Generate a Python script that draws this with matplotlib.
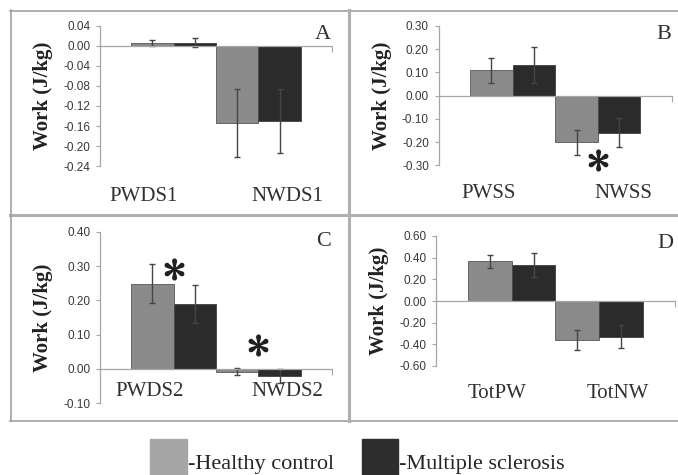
import matplotlib
matplotlib.use("Agg")
import matplotlib.pyplot as plt
from matplotlib.lines import Line2D
from matplotlib.patches import Rectangle
from matplotlib.transforms import blended_transform_factory


W, H = 678, 475

# panel A
cats_a = ["PWDS1", "NWDS1"]
healthy_a = [0.007, -0.154]
healthy_err_a = [0.006, 0.068]
ms_a = [0.007, -0.149]
ms_err_a = [0.009, 0.064]
ticks_a = [-0.24, -0.20, -0.16, -0.12, -0.08, -0.04, 0.00, 0.04]

# panel B
cats_b = ["PWSS", "NWSS"]
healthy_b = [0.109, -0.201]
healthy_err_b = [0.055, 0.053]
ms_b = [0.131, -0.159]
ms_err_b = [0.078, 0.064]
ticks_b = [-0.30, -0.20, -0.10, 0.00, 0.10, 0.20, 0.30]

# panel C
cats_c = ["PWDS2", "NWDS2"]
healthy_c = [0.249, -0.008]
healthy_err_c = [0.057, 0.010]
ms_c = [0.189, -0.021]
ms_err_c = [0.055, 0.021]
ticks_c = [-0.10, 0.00, 0.10, 0.20, 0.30, 0.40]

# panel D
cats_d = ["TotPW", "TotNW"]
healthy_d = [0.369, -0.360]
healthy_err_d = [0.060, 0.089]
ms_d = [0.332, -0.329]
ms_err_d = [0.112, 0.108]
ticks_d = [-0.60, -0.40, -0.20, 0.00, 0.20, 0.40, 0.60]

# significance marks: (category index, y value)
stars_b = [(1, -0.276)]
stars_c = [(0, 0.29), (1, 0.07)]

HEALTHY = "#8a8a8a"
MS = "#2b2b2b"
GRID = "#a6a6a6"
SERIF = "Liberation Serif"
SANS = "Liberation Sans"

plt.rcParams["mathtext.fontset"] = "stix"


def px_axes(fig, left, top, right, bottom):
    return fig.add_axes([left / W, 1 - bottom / H, (right - left) / W, (bottom - top) / H])


def draw_panel(fig, box, cats, hv, he, mv, me, ticks, letter, label_x, label_y, stars):
    ax = px_axes(fig, *box)
    x = range(len(cats))
    xh = [i - 0.25 for i in x]
    xm = [i + 0.25 for i in x]
    ekw = dict(ecolor="#454545", elinewidth=1.0, capsize=2.5, capthick=1.0)
    ax.bar(xh, hv, 0.5, yerr=he, color=HEALTHY, edgecolor="#666666", linewidth=0.7, error_kw=ekw)
    ax.bar(xm, mv, 0.5, yerr=me, color=MS, edgecolor="#4a4a4a", linewidth=0.7, error_kw=ekw)

    ax.set_xlim(-0.87, 1.87)
    ax.set_ylim(ticks[0], ticks[-1])
    ax.set_yticks(ticks)
    ax.set_yticklabels([f"{t:.2f}" for t in ticks], fontsize=8.5, family=SANS, color="#383838")
    ax.tick_params(axis="y", length=3, width=0.8, color=GRID, pad=4)

    for s in ["top", "right"]:
        ax.spines[s].set_visible(False)
    ax.spines["left"].set_color(GRID)
    ax.spines["left"].set_linewidth(0.9)
    ax.spines["bottom"].set_position(("data", 0))
    ax.spines["bottom"].set_color(GRID)
    ax.spines["bottom"].set_linewidth(0.9)
    ax.set_xticks([1.87])
    ax.set_xticklabels([""])
    ax.tick_params(axis="x", length=4, width=0.8, color=GRID, direction="out")

    tr = blended_transform_factory(ax.transData, ax.transAxes)
    for xi, name in zip(label_x, cats):
        ax.text(xi, label_y, name, transform=tr, ha="center", va="center",
                fontsize=15, family=SERIF, color="#303030", clip_on=False)

    ax.text(0.995, 0.94, letter, transform=ax.transAxes, ha="right", va="center",
            fontsize=16, family=SERIF, color="#303030")

    pos = ax.get_position()
    fig.text(pos.x0 - 57 / W, pos.y0 + pos.height / 2, "Work (J/kg)", rotation=90,
             ha="center", va="center", fontsize=15, family=SERIF, weight="bold", color="#222222")

    for ci, yv in stars:
        ax.plot(ci, yv, marker=r"$\ast$", markersize=15, color="#202020", clip_on=False)
    return ax


fig = plt.figure(figsize=(W / 100, H / 100), dpi=100)

draw_panel(fig, (100, 26, 332, 166), cats_a, healthy_a, healthy_err_a, ms_a, ms_err_a,
           ticks_a, "A", [-0.35, 1.34], -0.22, [])
draw_panel(fig, (438.7, 26, 672, 165.3), cats_b, healthy_b, healthy_err_b, ms_b, ms_err_b,
           ticks_b, "B", [-0.29, 1.30], -0.20, stars_b)
draw_panel(fig, (100, 231.7, 332, 403.3), cats_c, healthy_c, healthy_err_c, ms_c, ms_err_c,
           ticks_c, "C", [-0.29, 1.34], 0.066, stars_c)
draw_panel(fig, (436, 236, 675, 366), cats_d, healthy_d, healthy_err_d, ms_d, ms_err_d,
           ticks_d, "D", [-0.17, 1.22], -0.21, [])


def hline(y, x0, x1, lw, color):
    fig.add_artist(Line2D([x0 / W, x1 / W], [1 - y / H, 1 - y / H], lw=lw, color=color))


def vline(x, y0, y1, lw, color):
    fig.add_artist(Line2D([x / W, x / W], [1 - y0 / H, 1 - y1 / H], lw=lw, color=color))


# panel frames
hline(10.5, 10, W, 1.2, "#a0a0a0")
hline(420.5, 10, W, 1.2, "#a0a0a0")
hline(215, 10, W, 2.2, "#b0b0b0")
vline(10.5, 10, 421, 1.2, "#a0a0a0")
vline(349, 10, 421, 2.2, "#b0b0b0")

# legend
fig.add_artist(Rectangle((150 / W, 1 - 480 / H), 37 / W, 41 / H, color="#a6a6a6",
                         transform=fig.transFigure))
fig.add_artist(Rectangle((362 / W, 1 - 480 / H), 36 / W, 41 / H, color="#2d2d2d",
                         transform=fig.transFigure))
fig.text(188 / W, 1 - 469 / H, "-Healthy control", ha="left", va="baseline",
         fontsize=16, family=SERIF, color="#262626")
fig.text(399 / W, 1 - 469 / H, "-Multiple sclerosis", ha="left", va="baseline",
         fontsize=16, family=SERIF, color="#262626")

fig.savefig("out.png", dpi=100)
plt.close(fig)
